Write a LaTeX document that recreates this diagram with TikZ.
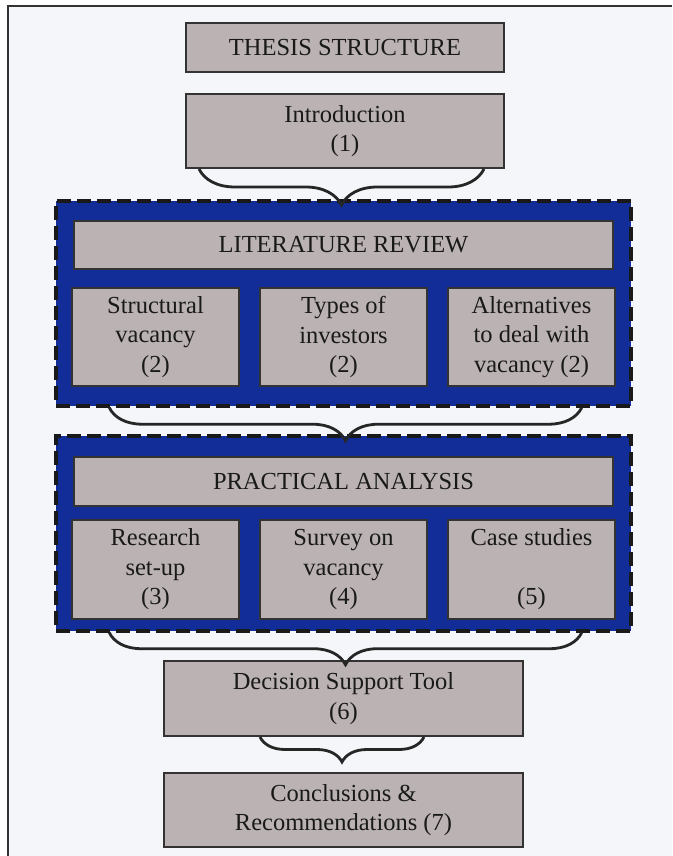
\documentclass[tikz,border=0pt]{standalone}
\usepackage{fontspec}
\setmainfont{Liberation Serif}
\usetikzlibrary{calc,positioning,fit,backgrounds,decorations.pathreplacing}
\definecolor{kassegraa}{RGB}{187,179,179}
\definecolor{rammeblaa}{RGB}{18,44,152}
\definecolor{bund}{RGB}{244,246,249}
\tikzset{
    kasse/.style={
           rectangle,
           draw=black!80, line width=2pt,
           fill=kassegraa,
           inner sep=0pt,
           align=center,
           text=black!90,
           font=\fontsize{24.5}{29.5}\selectfont,
           text centered},
    smal/.style={
           kasse,
           minimum width=167pt,
           minimum height=98pt},
    bred/.style={
           kasse,
           minimum width=539pt,
           minimum height=48pt},
    ramme/.style={
           fill=rammeblaa,
           draw=black!90, line width=3.4pt,
           dash pattern=on 14pt off 6pt},
    klamme/.style={
           draw=black!85, line width=2.8pt,
           decorate,
           decoration={brace, amplitude=#1}}
}

\begin{document}
\begin{tikzpicture}[x=1pt, y=1pt, node distance=19pt]

        \useasboundingbox (0,0) rectangle (672,-856);
        \begin{scope}[on background layer]
            \fill[white] (0,0) rectangle (672,-856);
            \fill[bund] (8,-6) rectangle (672,-856);
            \draw[black!80, line width=2pt] (8,-856) -- (8,-6) -- (672,-6);
        \end{scope}

        \node[kasse, minimum width=318pt, minimum height=49pt] (titel) at (345,-47.5) {THESIS STRUCTURE};
        \node[kasse, minimum width=318pt, minimum height=74pt, below=20pt of titel] (intro) {Introduction\\(1)};

        \node[bred] (litrev) at (343.5,-245) {LITERATURE REVIEW};
        \node[smal, below=17pt of litrev] (lit2) {Types of\\investors\\(2)};
        \node[smal, left=of lit2] (lit1) {Structural\\vacancy\\(2)};
        \node[smal, right=of lit2] (lit3) {Alternatives\\to deal with\\vacancy (2)};

        \node[bred, minimum height=49pt] (prakt) at (343.5,-481.5) {PRACTICAL ANALYSIS};
        \node[smal, minimum height=99pt, below=12pt of prakt] (pra2) {Survey on\\vacancy\\(4)};
        \node[smal, minimum height=99pt, left=of pra2] (pra1) {Research\\set-up\\(3)};
        \node[smal, minimum height=99pt, right=of pra2] (pra3) {Case studies\\~\\(5)};

        \node[kasse, minimum width=359pt, minimum height=75pt] (dst) at (343.5,-698.5) {Decision Support Tool\\(6)};
        \node[kasse, minimum width=359pt, minimum height=74pt, below=35pt of dst] (konkl) {Conclusions \&\\Recommendations (7)};

        % blue frames behind the boxes
        \begin{scope}[on background layer]
            \node[ramme, fit=(litrev)(lit1)(lit3), inner xsep=15pt, inner ysep=19pt] (litramme) {};
            \node[ramme, fit=(prakt)(pra1)(pra3), inner xsep=15pt, inner ysep=15.5pt, yshift=4.5pt] (praramme) {};
        \end{scope}

        \draw[klamme=36] ($(intro.south east)+(-21,0)$) -- ($(intro.south west)+(14,0)$);
        \draw[klamme=33] ($(litramme.south east)+(-51,0)$) -- ($(litramme.south west)+(55,0)$);
        \draw[klamme=32] ($(praramme.south east)+(-51,0)$) -- ($(praramme.south west)+(55,0)$);
        \draw[klamme=25] ($(dst.south east)+(-100,0)$) -- ($(dst.south west)+(97,0)$);

\end{tikzpicture}
\end{document}
